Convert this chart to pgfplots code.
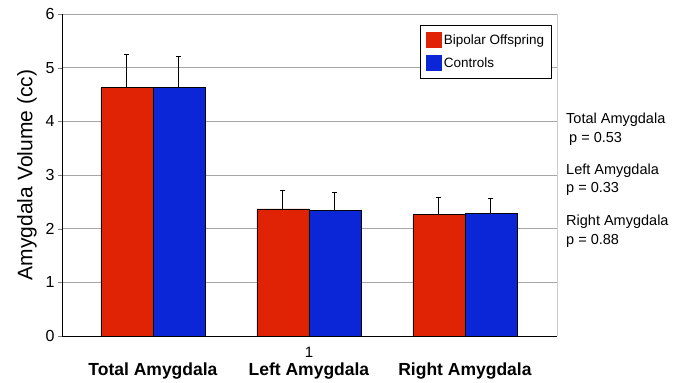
\documentclass[border=0pt]{standalone}
\usepackage{fontspec}
\setmainfont{Liberation Sans}
\usepackage{pgfplots}
\pgfplotsset{compat=1.18}
\definecolor{bred}{RGB}{225,35,5}
\definecolor{bblue}{RGB}{10,38,215}
\begin{document}
\begin{tikzpicture}
\path (-62bp,-46bp) rectangle (619bp,336bp);
\begin{axis}[
  at={(0,0)}, anchor=south west,
  scale only axis, width=495bp, height=322bp,
  xmin=-0.583, xmax=2.59, ymin=0, ymax=6,
  ytick={0,1,2,3,4,5,6},
  ymajorgrids, grid style={gray!70, line width=0.8bp},
  axis x line*=bottom, axis y line*=left,
  axis line style={black, line width=1bp, -},
  tick align=outside,
  major tick length=4bp,
  x tick style={draw=none},
  /pgf/number format/assume math mode=true,
  yticklabel style={font=\fontsize{16bp}{18bp}\selectfont},
  ylabel={Amygdala Volume (cc)},
  ylabel style={font=\fontsize{21bp}{24bp}\selectfont, yshift=2bp},
  xtick={0,1,2},
  xticklabels={Total Amygdala, Left Amygdala, Right Amygdala},
  xticklabel style={font=\bfseries\fontsize{17.5bp}{20bp}\selectfont, yshift=-19bp},
  ybar=0pt, bar width=52bp,
  clip=false,
  legend style={at={(0.989,0.966)}, anchor=north east, draw=black, line width=1bp,
    font=\fontsize{13.5bp}{15bp}\selectfont, row sep=7bp, inner xsep=5bp, inner ysep=7bp, cells={anchor=west}},
  legend image code/.code={\fill[#1, draw=none] (0bp,-8bp) rectangle (16bp,8bp);},
]
\addplot[fill=bred, draw=black, line width=0.5bp,
  error bars/.cd, y dir=plus, y explicit,
  error bar style={black, line width=1bp},
  error mark options={black, rotate=90, mark size=2.5bp, line width=1bp}]
  table[x=x, y=y, y error=e] {
x y e
0 4.63 0.61
1 2.37 0.34
2 2.26 0.33
};
\addplot[fill=bblue, draw=black, line width=0.5bp,
  error bars/.cd, y dir=plus, y explicit,
  error bar style={black, line width=1bp},
  error mark options={black, rotate=90, mark size=2.5bp, line width=1bp}]
  table[x=x, y=y, y error=e] {
x y e
0 4.63 0.58
1 2.34 0.34
2 2.28 0.28
};
\legend{Bipolar Offspring, Controls}
\draw[gray!40, line width=1bp] (rel axis cs:1,0) -- (rel axis cs:1,1);
\node[font=\fontsize{15bp}{17bp}\selectfont, anchor=north, inner sep=0pt, yshift=-11bp] at (axis cs:1,0) {1};
\end{axis}
\begin{scope}[every node/.style={anchor=west, inner sep=0pt, font=\fontsize{14.5bp}{16bp}\selectfont}]
\node at (504bp,216bp) {Total Amygdala};
\node at (507bp,197bp) {p = 0.53};
\node at (504bp,165bp) {Left Amygdala};
\node at (504bp,147bp) {p = 0.33};
\node at (504bp,114bp) {Right Amygdala};
\node at (504bp,95bp) {p = 0.88};
\end{scope}
\end{tikzpicture}
\end{document}
